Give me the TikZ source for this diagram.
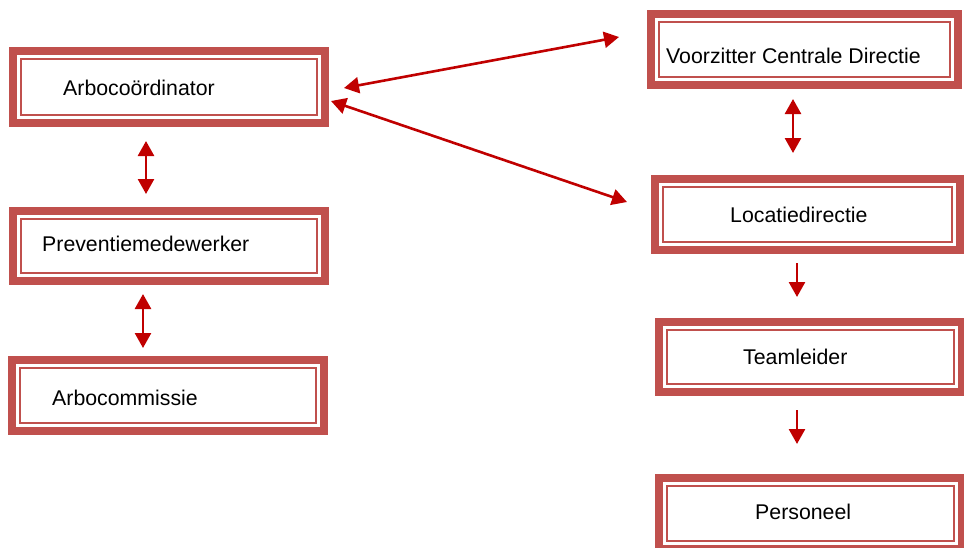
\documentclass[tikz,border=0pt]{standalone}
\usepackage{fontspec}
\setmainfont{Liberation Sans}
\usetikzlibrary{arrows.meta}
\definecolor{boxred}{RGB}{192,80,77}
\definecolor{arrred}{RGB}{192,0,0}
\begin{document}
\begin{tikzpicture}[x=1pt,y=-1pt,
  orgbox/.style={draw=boxred, line width=8pt, fill=white, inner sep=0pt,
    path picture={\draw[boxred, line width=2.5pt]
      ([shift={(8pt,-8pt)}]path picture bounding box.north west) rectangle
      ([shift={(-8pt,8pt)}]path picture bounding box.south east);}},
  lbl/.style={anchor=base west, inner sep=0pt, font=\fontsize{21.3}{25}\selectfont},
  conn/.style={draw=arrred, line width=2.6pt, arrows={Triangle[length=15pt,width=16pt]-Triangle[length=15pt,width=16pt]}},
  oneway/.style={draw=arrred, line width=2.6pt, arrows={-Triangle[length=15pt,width=16pt]}}
]
\useasboundingbox (0,0) rectangle (964,547);
\clip (0,0) rectangle (964,547);
% boxes
\node[orgbox, minimum width=312pt, minimum height=72pt] (arbo) at (169,87) {};
\node[orgbox, minimum width=312pt, minimum height=70pt] (prev) at (169,246) {};
\node[orgbox, minimum width=312pt, minimum height=71pt] (comm) at (168,395.5) {};
\node[orgbox, minimum width=307pt, minimum height=71pt] (voor) at (804.5,49.5) {};
\node[orgbox, minimum width=305pt, minimum height=71pt] (loc) at (807.5,214.5) {};
\node[orgbox, minimum width=303pt, minimum height=70pt] (team) at (810.5,357) {};
\node[orgbox, minimum width=303pt, minimum height=71pt] (pers) at (810.5,513.5) {};
% labels
\node[lbl] (tarbo) at (63,95) {Arbocoördinator};
\node[lbl] (tprev) at (42,251) {Preventiemedewerker};
\node[lbl] (tcomm) at (52,405) {Arbocommissie};
\node[lbl] (tvoor) at (666,63) {Voorzitter Centrale Directie};
\node[lbl] (tloc) at (730,222) {Locatiedirectie};
\node[lbl] (tteam) at (743,364) {Teamleider};
\node[lbl] (tpers) at (755,519) {Personeel};
% connector ends
\coordinate (a1) at (344,88);   \coordinate (v1) at (619,37);
\coordinate (a2) at (331,101);  \coordinate (l1) at (627,202);
\coordinate (a3) at (146,141);  \coordinate (p1) at (146,194);
\coordinate (p2) at (143,294);  \coordinate (c1) at (143,348);
\coordinate (v2) at (793,99);   \coordinate (l2) at (793,153);
\coordinate (l3) at (797,263);  \coordinate (t1) at (797,297);
\coordinate (t2) at (797,410);  \coordinate (s1) at (797,444);
% connectors
\draw[conn] (a1) -- (v1);
\draw[conn] (a2) -- (l1);
\draw[conn] (a3) -- (p1);
\draw[conn] (p2) -- (c1);
\draw[conn] (v2) -- (l2);
\draw[oneway] (l3) -- (t1);
\draw[oneway] (t2) -- (s1);
\end{tikzpicture}
\end{document}
